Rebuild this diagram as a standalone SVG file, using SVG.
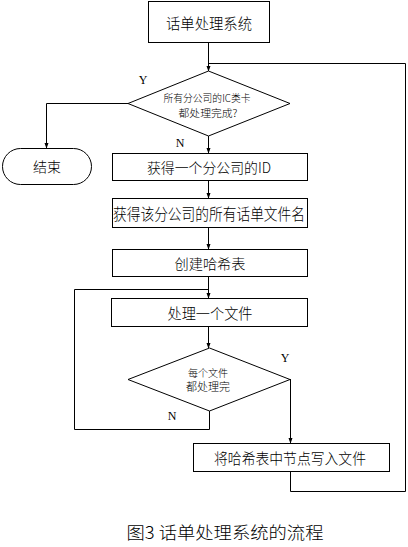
<svg xmlns="http://www.w3.org/2000/svg" width="408" height="547" viewBox="0 0 408 547">
<defs>
<marker id="ah" markerWidth="6" markerHeight="6" refX="5.5" refY="3" orient="auto" markerUnits="userSpaceOnUse">
<path d="M0,0.8 L6,3 L0,5.2 Z" fill="#000"/>
</marker>
</defs>
<style>
.s{fill:#fff;stroke:#000;stroke-width:1}
.c{fill:none;stroke:#000;stroke-width:1}
.t{font-family:"Noto Sans CJK SC","Liberation Sans",sans-serif;font-weight:300;fill:#000;text-anchor:middle;dominant-baseline:central}
.l{font-family:"Liberation Serif",serif;font-size:12px;fill:#000;text-anchor:middle;dominant-baseline:central}
</style>
<rect width="408" height="547" fill="#fff"/>
<g id="connectors">
<path class="c" d="M208.5,42 V71" marker-end="url(#ah)"/>
<path class="c" d="M405.5,491.5 V63.5 H208.5"/>
<path class="c" d="M208.5,136 V153" marker-end="url(#ah)"/>
<path class="c" d="M128,103.5 H46.5 V148" marker-end="url(#ah)"/>
<path class="c" d="M208.5,180 V198" marker-end="url(#ah)"/>
<path class="c" d="M208.5,227 V249" marker-end="url(#ah)"/>
<path class="c" d="M208.5,276 V298" marker-end="url(#ah)"/>
<path class="c" d="M209.5,411 V429.5 H74.5 V289.5 H208.5"/>
<path class="c" d="M208.5,326 V348" marker-end="url(#ah)"/>
<path class="c" d="M290.5,379 V443" marker-end="url(#ah)"/>
<path class="c" d="M290.5,471 V491.5 H405.5"/>
</g>
<g id="start">
<rect class="s" x="148.5" y="1.5" width="121" height="41"/>
<text class="t" x="209" y="22" font-size="15" textLength="86" lengthAdjust="spacingAndGlyphs">话单处理系统</text>
</g>
<g id="decision1">
<polygon class="s" points="208.5,71 290,103.5 208.5,136 128,103.5"/>
<text class="t" x="207" y="97" font-size="10.5" textLength="87" lengthAdjust="spacingAndGlyphs">所有分公司的IC类卡</text>
<text class="t" x="208" y="112" font-size="10.5" textLength="59" lengthAdjust="spacingAndGlyphs">都处理完成?</text>
</g>
<text class="l" x="143" y="80">Y</text>
<text class="l" x="180" y="143">N</text>
<g id="end">
<rect class="s" x="2.5" y="148.5" width="89" height="36" rx="18" ry="18"/>
<text class="t" x="47" y="166" font-size="14">结束</text>
</g>
<g id="box2">
<rect class="s" x="112.5" y="153.5" width="195" height="27"/>
<text class="t" x="209" y="167" font-size="14" textLength="124" lengthAdjust="spacingAndGlyphs">获得一个分公司的ID</text>
</g>
<g id="box3">
<rect class="s" x="112.5" y="198.5" width="195" height="29"/>
<text class="t" x="209" y="213" font-size="15.5" textLength="192" lengthAdjust="spacingAndGlyphs">获得该分公司的所有话单文件名</text>
</g>
<g id="box4">
<rect class="s" x="112.5" y="249.5" width="195" height="27"/>
<text class="t" x="210" y="263" font-size="14" textLength="71" lengthAdjust="spacingAndGlyphs">创建哈希表</text>
</g>
<g id="box5">
<rect class="s" x="111.5" y="298.5" width="196" height="28"/>
<text class="t" x="210" y="312" font-size="14.5" textLength="85" lengthAdjust="spacingAndGlyphs">处理一个文件</text>
</g>
<g id="decision2">
<polygon class="s" points="209.5,348 290,379.5 209.5,411 128,379.5"/>
<text class="t" x="208" y="372" font-size="10.5" textLength="40" lengthAdjust="spacingAndGlyphs">每个文件</text>
<text class="t" x="208" y="386" font-size="11" textLength="44" lengthAdjust="spacingAndGlyphs">都处理完</text>
</g>
<text class="l" x="285" y="358">Y</text>
<text class="l" x="172" y="416">N</text>
<g id="box6">
<rect class="s" x="193.5" y="443.5" width="196" height="28"/>
<text class="t" x="290" y="457" font-size="15" textLength="152" lengthAdjust="spacingAndGlyphs">将哈希表中节点写入文件</text>
</g>
<text class="t" x="225" y="531" font-size="17.5" textLength="197" lengthAdjust="spacingAndGlyphs">图3 话单处理系统的流程</text>
</svg>
